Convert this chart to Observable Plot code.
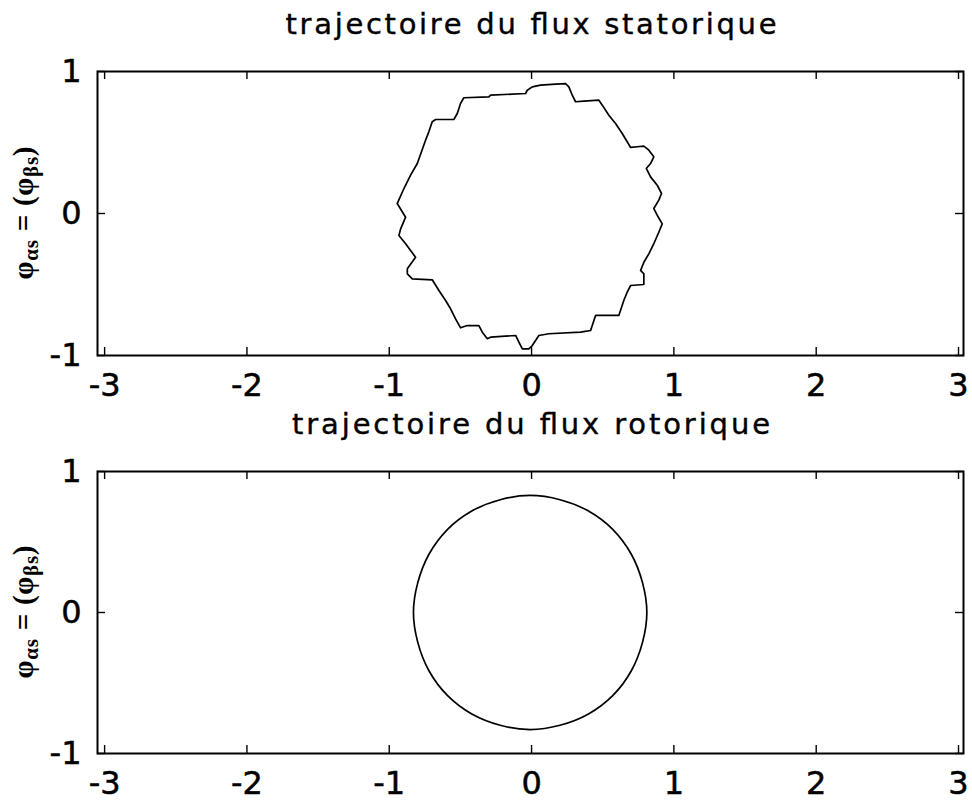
<!DOCTYPE html>
<html>
<head>
<meta charset="utf-8">
<script src="https://cdn.jsdelivr.net/npm/d3@7"></script>
<script src="https://cdn.jsdelivr.net/npm/@observablehq/plot@0.6"></script>
<style>
  html, body { margin: 0; padding: 0; background: #fff; }
  #fig { position: relative; width: 972px; height: 805px; background: #fff; overflow: hidden; }
  #fig svg { position: absolute; left: 0; overflow: visible; }
  /* heavier glyphs for the tick labels */
  #fig svg [aria-label$="tick label"] { stroke: #000; stroke-width: 0.5px; }
</style>
</head>
<body>
<div id="fig"></div>
<script>
// Stator flux trajectory (alpha / beta components, Wb)
const statorAlpha = [
  -0.944,-0.897,-0.850,-0.803,-0.768,-0.745,-0.722,-0.698,-0.674,-0.546,
  -0.522,-0.499,-0.476,-0.300,-0.288,-0.042,-0.030,0.005,0.063,0.169,
  0.239,0.262,0.286,0.309,0.367,0.473,0.497,0.543,0.590,0.637,
  0.672,0.696,0.743,0.789,0.824,0.859,0.836,0.806,0.836,0.883,
  0.913,0.894,0.859,0.883,0.918,0.894,0.859,0.824,0.789,0.766,
  0.789,0.789,0.696,0.672,0.648,0.625,0.613,0.450,0.438,0.415,
  0.344,0.122,0.051,0.028,0.005,-0.019,-0.065,-0.089,-0.112,-0.183,
  -0.288,-0.311,-0.346,-0.370,-0.452,-0.499,-0.534,-0.569,-0.604,-0.651,
  -0.698,-0.838,-0.873,-0.873,-0.815,-0.850,-0.885,-0.932,-0.920,-0.885
];
const statorBeta = [
  0.070,0.176,0.270,0.352,0.451,0.516,0.575,0.646,0.662,0.662,
  0.704,0.775,0.815,0.822,0.833,0.845,0.868,0.892,0.904,0.911,
  0.915,0.892,0.833,0.787,0.791,0.798,0.763,0.692,0.634,0.563,
  0.505,0.465,0.470,0.474,0.446,0.399,0.352,0.317,0.258,0.199,
  0.141,0.094,0.035,-0.012,-0.073,-0.132,-0.213,-0.284,-0.343,-0.401,
  -0.425,-0.500,-0.507,-0.554,-0.613,-0.683,-0.718,-0.718,-0.754,-0.824,
  -0.836,-0.847,-0.859,-0.894,-0.930,-0.953,-0.953,-0.906,-0.859,-0.864,
  -0.871,-0.882,-0.836,-0.789,-0.789,-0.805,-0.742,-0.671,-0.613,-0.542,
  -0.467,-0.460,-0.425,-0.389,-0.308,-0.261,-0.213,-0.155,-0.108,-0.026
];

// Rotor flux trajectory (alpha / beta components, Wb)
const rotorAlpha = [
  0.81,0.78,0.70,0.57,0.40,0.20,-0.01,-0.22,-0.42,-0.59,-0.72,-0.80,
  -0.83,-0.80,-0.72,-0.59,-0.42,-0.22,-0.01,0.20,0.40,0.57,0.70,0.78
];
const rotorBeta = [
  0.00,0.21,0.415,0.59,0.72,0.80,0.83,0.80,0.72,0.59,0.415,0.21,
  0.00,-0.21,-0.415,-0.59,-0.72,-0.80,-0.83,-0.80,-0.72,-0.59,-0.415,-0.21
];

const xTicks = [-3, -2, -1, 0, 1, 2, 3];
const yTicks = [-1, 0, 1];
const titles = ["trajectoire du flux statorique", "trajectoire du flux rotorique"];

const W = 972, ML = 97, MR = 9;

function panel({alpha, beta, curve, title, titleWidth, height, marginTop, marginBottom}) {
  const pts = alpha.map((a, i) => ({a, b: beta[i]}));
  const innerH = height - marginTop - marginBottom;
  const innerW = W - ML - MR;
  const tick = 8;
  const svg = Plot.plot({
    width: W, height, marginTop, marginBottom, marginLeft: ML, marginRight: MR,
    style: {background: "transparent", fontFamily: "'DejaVu Sans', sans-serif", fontSize: "32px", color: "#000"},
    x: {domain: [-3.05, 3.035], ticks: xTicks, tickSize: 0, tickPadding: 18, tickFormat: d => String(d), label: null},
    y: {domain: [-1, 1], ticks: yTicks, tickSize: 0, tickPadding: 16, tickFormat: d => String(d), label: null},
    marks: [
      // inward ticks on all four sides
      Plot.tickX(xTicks, {x: d => d, insetTop: innerH - tick, stroke: "#000", strokeWidth: 1.4}),
      Plot.tickX(xTicks, {x: d => d, insetBottom: innerH - tick, stroke: "#000", strokeWidth: 1.4}),
      Plot.tickY(yTicks, {y: d => d, insetRight: innerW - tick, stroke: "#000", strokeWidth: 1.4}),
      Plot.tickY(yTicks, {y: d => d, insetLeft: innerW - tick, stroke: "#000", strokeWidth: 1.4}),
      Plot.line(pts, {x: "a", y: "b", curve, stroke: "#000", strokeWidth: 1.7}),
      Plot.frame({stroke: "#000", strokeWidth: 2})
    ]
  });
  const s = d3.select(svg);
  s.append("text")
    .attr("x", 531).attr("y", 34)
    .attr("text-anchor", "middle")
    .attr("textLength", titleWidth).attr("lengthAdjust", "spacing")
    .style("font-family", "'DejaVu Sans', sans-serif")
    .style("font-size", "29px")
    .attr("fill", "#000")
    .attr("stroke", "#000").attr("stroke-width", 0.4)
    .text(title);
  const yc = marginTop + innerH / 2;
  const lab = s.append("text")
    .attr("transform", `translate(23,${yc}) rotate(-90)`)
    .attr("text-anchor", "middle")
    .attr("dy", "0.33em")
    .attr("textLength", 133).attr("lengthAdjust", "spacing")
    .style("font-family", "'Liberation Serif', 'Times New Roman', serif")
    .style("font-weight", "bold")
    .style("font-size", "29px")
    .attr("fill", "#000");
  lab.append("tspan").text("φ");
  lab.append("tspan").attr("dy", 5).style("font-size", "21px").text("αs");
  lab.append("tspan").attr("dy", -5).text(" = (φ");
  lab.append("tspan").attr("dy", 5).style("font-size", "21px").text("βs");
  lab.append("tspan").attr("dy", -5).text(")");
  return svg;
}

const fig = document.getElementById("fig");
const p1 = panel({alpha: statorAlpha, beta: statorBeta, curve: "linear-closed",
  title: titles[0], titleWidth: 491, height: 400, marginTop: 71, marginBottom: 45});
p1.style.top = "0px";
fig.appendChild(p1);
const p2 = panel({alpha: rotorAlpha, beta: rotorBeta, curve: "catmull-rom-closed",
  title: titles[1], titleWidth: 478, height: 405, marginTop: 71, marginBottom: 52});
p2.style.top = "400px";
fig.appendChild(p2);
</script>
</body>
</html>
